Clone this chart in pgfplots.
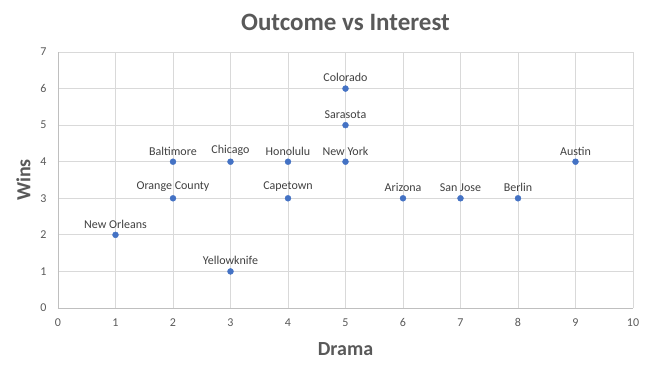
\documentclass[border=0pt]{standalone}
\usepackage{pgfplots}
\pgfplotsset{compat=1.18}
\usepackage{fontspec}
\setmainfont{Carlito}
\definecolor{ptblue}{HTML}{4472C4}
\definecolor{gridc}{HTML}{D9D9D9}
\definecolor{axc}{HTML}{BFBFBF}
\definecolor{tickc}{HTML}{595959}
\definecolor{lblc}{HTML}{404040}
\begin{document}
\begin{tikzpicture}
\begin{axis}[
  scale only axis,
  width=575bp, height=256bp,
  xmin=0, xmax=10, ymin=0, ymax=7,
  xtick={0,...,10}, ytick={0,...,7},
  grid=major,
  major grid style={gridc, line width=0.75pt},
  axis line style={draw=none},
  axis x line*=bottom, axis y line*=left,
  major tick length=0pt,
  tick style={draw=none},
  /pgf/number format/assume math mode=true,
  ticklabel style={font=\fontsize{12bp}{14bp}\selectfont, text=tickc},
  xticklabel style={yshift=-7bp},
  yticklabel style={xshift=-8bp},
  xlabel={\textbf{Drama}},
  ylabel={\textbf{Wins}},
  xlabel style={font=\fontsize{20bp}{24bp}\selectfont, text=tickc, yshift=-9bp},
  ylabel style={font=\fontsize{20bp}{24bp}\selectfont, text=tickc, yshift=3bp},
  title={\textbf{Outcome vs Interest}},
  title style={font=\fontsize{25bp}{30bp}\selectfont, text=tickc, yshift=12bp},
  clip=false,
  nodes near coords,
  point meta=explicit symbolic,
  every node near coord/.append style={font=\fontsize{12bp}{14bp}\selectfont, text=lblc, anchor=south, yshift=3bp},
]
\draw[axc, line width=0.75pt] (rel axis cs:0,0) -- (rel axis cs:1,0);
\draw[axc, line width=0.75pt] (rel axis cs:0,0) -- (rel axis cs:0,1);
\addplot[only marks, mark=*, mark size=3pt, mark options={draw=ptblue, fill=ptblue}] table[meta=label] {
x y label
1 2 {New Orleans}
2 4 Baltimore
2 3 {Orange County}
3 4 Chicago
3 1 Yellowknife
4 4 Honolulu
4 3 Capetown
5 6 Colorado
5 5 Sarasota
5 4 {New York}
6 3 Arizona
7 3 {San Jose}
8 3 Berlin
9 4 Austin
};
\coordinate (sw) at (rel axis cs:0,0);
\coordinate (ne) at (rel axis cs:1,1);
\end{axis}
\useasboundingbox ([xshift=-58bp,yshift=-65bp]sw) rectangle ([xshift=13bp,yshift=52bp]ne);
\end{tikzpicture}
\end{document}
